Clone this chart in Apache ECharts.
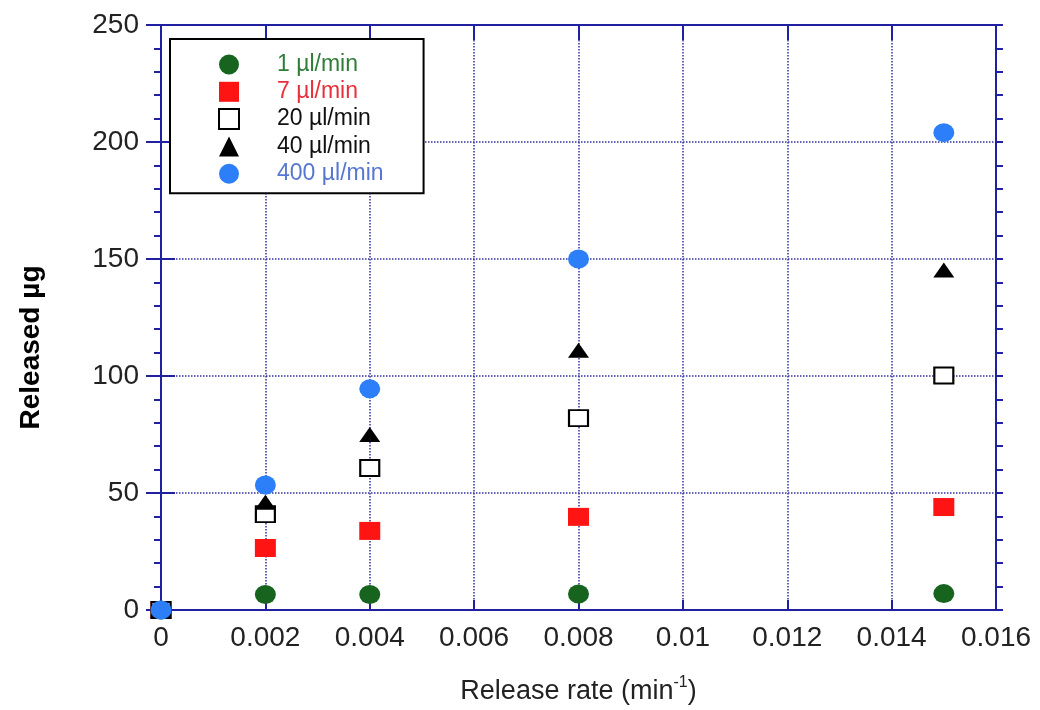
<!DOCTYPE html>
<html>
<head>
<meta charset="utf-8">
<script src="https://cdn.jsdelivr.net/npm/echarts@6/dist/echarts.min.js"></script>
<style>html,body{margin:0;padding:0;background:#fff}#c{width:1040px;height:710px}</style>
</head>
<body>
<div id="c"></div>
<script>
// Release rate (min^-1)
const xValues = [0, 0.002, 0.004, 0.008, 0.015];
// Released µg per flow rate
const s1 = [0, 6.6, 6.6, 6.8, 7];
const s7 = [0, 26.5, 33.8, 39.8, 44];
const s20 = [0, 41, 60.7, 82, 100.2];
const s40 = [0, 46, 75, 111, 145.3];
const s400 = [0, 53.4, 94.5, 150, 204];
const seriesNames = ['1 µl/min', '7 µl/min', '20 µl/min', '40 µl/min', '400 µl/min'];

const FONT = 'Liberation Sans, Arial, sans-serif';
const AX = '#2020a0';
const GRID = '#3030a0';

function pts(arr){ return xValues.map((x,i)=>[x, arr[i]]); }

const xBase = {type:'value', min:0, max:0.016, interval:0.002, gridIndex:0};
const yBase = {type:'value', min:0, max:250, interval:50, gridIndex:0};

const option = {
  backgroundColor:'#fff',
  animation:false,
  grid:{left:161, right:44, top:25, bottom:100, outerBoundsMode:'none', containLabel:false},
  legend:{
    orient:'vertical', left:170, top:39,
    padding:[14,40,8,48],
    itemWidth:20, itemHeight:20, itemGap:4.3,
    borderColor:'#000', borderWidth:2, backgroundColor:'#fff',
    textStyle:{fontFamily:FONT, fontSize:23, padding:[0,0,0,33]},
    data:[
      {name:seriesNames[0], textStyle:{color:'#2f7d37'}},
      {name:seriesNames[1], textStyle:{color:'#e8303a'}},
      {name:seriesNames[2], textStyle:{color:'#111'}},
      {name:seriesNames[3], textStyle:{color:'#111'}},
      {name:seriesNames[4], textStyle:{color:'#5577d0'}}
    ]
  },
  xAxis:[
    Object.assign({}, xBase, {
      position:'bottom',
      axisLine:{show:true, lineStyle:{color:AX, width:2}},
      axisTick:{show:true, inside:true, length:10, lineStyle:{color:AX, width:2}},
      axisLabel:{show:true, margin:14, color:'#222', fontFamily:FONT, fontSize:28,
        formatter:v => v === 0 ? '0' : String(+v.toFixed(3))},
      splitLine:{show:true, lineStyle:{color:GRID, type:'dotted', width:1.5}},
      name:'{a|Release rate (min}{b|-1}{a|)}',
      nameLocation:'middle', nameGap:65,
      nameTextStyle:{rich:{
        a:{fontFamily:FONT, fontSize:27, color:'#222', lineHeight:34},
        b:{fontFamily:FONT, fontSize:16, color:'#222', verticalAlign:'top', lineHeight:34}
      }}
    }),
    Object.assign({}, xBase, {
      position:'top',
      axisLine:{show:true, onZero:false, lineStyle:{color:AX, width:2}},
      axisTick:{show:true, inside:true, length:15, lineStyle:{color:AX, width:2}},
      axisLabel:{show:false}, splitLine:{show:false}
    })
  ],
  yAxis:[
    Object.assign({}, yBase, {
      position:'left',
      axisLine:{show:true, onZero:false, lineStyle:{color:AX, width:2}},
      axisTick:{show:true, inside:false, length:7, lineStyle:{color:AX, width:2}},
      minorTick:{show:true, splitNumber:5, length:7, lineStyle:{color:AX, width:2}},
      axisLabel:{show:true, margin:22, color:'#222', fontFamily:FONT, fontSize:28},
      splitLine:{show:true, lineStyle:{color:GRID, type:'dotted', width:1.5}},
      name:'Released µg', nameLocation:'middle', nameGap:116,
      nameTextStyle:{fontFamily:FONT, fontSize:28, fontWeight:'bold', color:'#000', padding:[0,60,0,0]}
    }),
    Object.assign({}, yBase, {
      position:'right',
      axisLine:{show:true, onZero:false, lineStyle:{color:AX, width:2}},
      axisTick:{show:true, inside:false, length:7, lineStyle:{color:AX, width:2}},
      minorTick:{show:true, splitNumber:5, length:7, lineStyle:{color:AX, width:2}},
      axisLabel:{show:false}, splitLine:{show:false}
    }),
    Object.assign({}, yBase, {
      position:'left',
      axisLine:{show:false},
      axisTick:{show:true, inside:true, length:14, lineStyle:{color:AX, width:2}},
      axisLabel:{show:false}, splitLine:{show:false}
    }),
    Object.assign({}, yBase, {
      position:'right',
      axisLine:{show:false},
      axisTick:{show:true, inside:true, length:15, lineStyle:{color:AX, width:2}},
      axisLabel:{show:false}, splitLine:{show:false}
    })
  ],
  series:[
    {name:seriesNames[0], type:'scatter', data:pts(s1), symbol:'circle', symbolSize:[21,19],
      itemStyle:{color:'#17641f', opacity:1}},
    {name:seriesNames[1], type:'scatter', data:pts(s7), symbol:'rect', symbolSize:[21,18],
      itemStyle:{color:'#ff1414', opacity:1}},
    {name:seriesNames[2], type:'scatter', data:pts(s20), symbol:'rect', symbolSize:[19,16],
      itemStyle:{color:'#fff', borderColor:'#000', borderWidth:2, opacity:1}},
    {name:seriesNames[3], type:'scatter', data:pts(s40), symbol:'triangle', symbolSize:[21,15],
      itemStyle:{color:'#000', opacity:1}},
    {name:seriesNames[4], type:'scatter', data:pts(s400), symbol:'circle', symbolSize:[21,19],
      itemStyle:{color:'#2d7ff9', opacity:1}}
  ]
};
const chart = echarts.init(document.getElementById('c'), null, {renderer:'canvas'});
chart.setOption(option);
</script>
</body>
</html>
